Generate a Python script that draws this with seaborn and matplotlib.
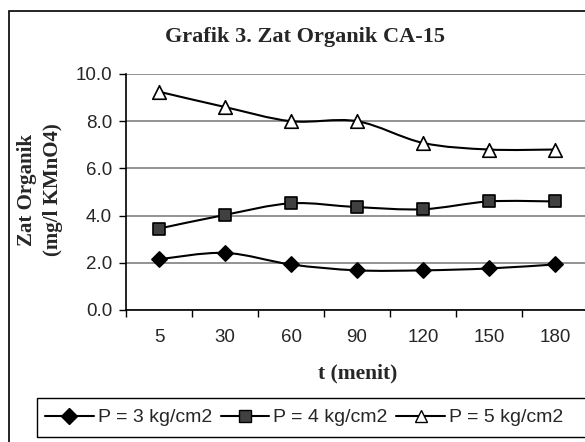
import numpy as np
import pandas as pd
import matplotlib
matplotlib.use("Agg")
import matplotlib.pyplot as plt
import seaborn as sns
from matplotlib.path import Path
from matplotlib.patches import PathPatch, Rectangle
from matplotlib.lines import Line2D

# ---- data ----
times = ["5", "30", "60", "90", "120", "150", "180"]
p3 = [2.15, 2.42, 1.93, 1.68, 1.68, 1.76, 1.93]
p4 = [3.45, 4.03, 4.52, 4.36, 4.27, 4.60, 4.60]
p5 = [9.25, 8.60, 8.00, 8.00, 7.08, 6.80, 6.80]
series_names = ["P = 3 kg/cm2", "P = 4 kg/cm2", "P = 5 kg/cm2"]
title = "Grafik 3. Zat Organik CA-15"
xlabel = "t (menit)"
ylabel = "Zat Organik\n(mg/l KMnO4)"

sns.set_theme(style="white")
plt.rcParams['font.family'] = ['Liberation Sans', 'DejaVu Sans']

W, H = 585, 442
fig = plt.figure(figsize=(W / 100, H / 100), dpi=100)
fig.patch.set_facecolor("white")

left, right, top, bottom = 126, 588, 74, 310
ax = fig.add_axes([left / W, 1 - bottom / H, (right - left) / W, (bottom - top) / H])

rows = []
for name, vals in zip(series_names, [p3, p4, p5]):
    for i, (t, v) in enumerate(zip(times, vals)):
        rows.append({"pos": i, "t": t, "val": v, "series": name})
df = pd.DataFrame(rows)

styles = {
    series_names[0]: dict(marker="D", s=60, color="black", edgecolor="black"),
    series_names[1]: dict(marker="s", s=70, color="#404040", edgecolor="black"),
    series_names[2]: dict(marker="^", s=95, color="white", edgecolor="black"),
}


def smooth_path(xs, ys):
    pts = np.column_stack([xs, ys]).astype(float)
    n = len(pts)
    verts = [pts[0]]
    codes = [Path.MOVETO]
    for i in range(n - 1):
        p0 = pts[i - 1] if i > 0 else pts[i]
        p1 = pts[i]
        p2 = pts[i + 1]
        p3_ = pts[i + 2] if i + 2 < n else pts[i + 1]
        c1 = p1 + (p2 - p0) / 6.0
        c2 = p2 - (p3_ - p1) / 6.0
        verts += [c1, c2, p2]
        codes += [Path.CURVE4] * 3
    return Path(verts, codes)


for name in series_names:
    sub = df[df.series == name]
    path = smooth_path(sub["pos"].values, sub["val"].values)
    ax.add_patch(PathPatch(path, facecolor="none", edgecolor="black", lw=1.5, zorder=2))
    st = styles[name]
    sns.scatterplot(data=sub, x="pos", y="val", ax=ax, marker=st["marker"], s=st["s"],
                    color=st["color"], edgecolor=st["edgecolor"], linewidth=1.2,
                    zorder=3, legend=False)

ax.set_xlim(-0.5, len(times) - 0.5)
ax.set_ylim(0, 10)
ax.set_yticks(np.arange(0, 10.01, 2))
ax.set_yticklabels([f"{v:.1f}" for v in np.arange(0, 10.01, 2)])
ax.yaxis.grid(True, color="#808080", lw=1.2)
ax.set_axisbelow(True)

ax.set_xticks(np.arange(-0.5, len(times), 1.0))
ax.set_xticklabels([])
ax.set_xticks(np.arange(len(times)), minor=True)
ax.set_xticklabels(times, minor=True)
ax.tick_params(axis="x", which="major", direction="out", length=5, width=1, color="black", bottom=True)
ax.tick_params(axis="x", which="minor", length=0, pad=14, labelsize=13.5)
ax.tick_params(axis="y", direction="out", length=5, width=1, color="black", left=True, labelsize=13.5, pad=5)

for s in ["top", "right"]:
    ax.spines[s].set_visible(False)
for s in ["left", "bottom"]:
    ax.spines[s].set_color("black")
    ax.spines[s].set_linewidth(1.2)

ax.set_xlabel("")
ax.set_ylabel("")

serif = ['Liberation Serif', 'DejaVu Serif']
fig.text(305 / W, 1 - 37 / H, title, ha="center", va="center", fontsize=16,
         fontweight="bold", family=serif)
fig.text(358 / W, 1 - 373 / H, xlabel, ha="center", va="center", fontsize=15.5,
         fontweight="bold", family=serif)
fig.text(40 / W, 1 - 190 / H, ylabel, ha="center", va="center", rotation=90,
         fontsize=15, fontweight="bold", family=serif, linespacing=1.4)

# outer chart border
fig.add_artist(Rectangle((9 / W, -0.1), 2, 1 - 11 / H + 0.1, transform=fig.transFigure,
                         fill=False, edgecolor="black", lw=1.2, clip_on=False))

# legend frame (runs past the right edge, as in the reference)
fig.add_artist(Rectangle((37 / W, 1 - 437 / H), 1, 39 / H, transform=fig.transFigure,
                         fill=False, edgecolor="black", lw=1.0, clip_on=False))

handles = []
for name in series_names:
    st = styles[name]
    handles.append(Line2D([0], [0], color="black", lw=1.5, marker=st["marker"],
                          markersize=8 if st["marker"] != "^" else 9,
                          markerfacecolor=st["color"], markeredgecolor="black"))
leg = fig.legend(handles, series_names, loc="center left", ncol=3,
                 bbox_to_anchor=(37 / W, 1 - 417.5 / H), frameon=False,
                 fontsize=14, handlelength=2.5, handletextpad=0.2, columnspacing=0.45,
                 borderpad=0.42, borderaxespad=0)

fig.savefig("out.png", dpi=100, facecolor="white")
